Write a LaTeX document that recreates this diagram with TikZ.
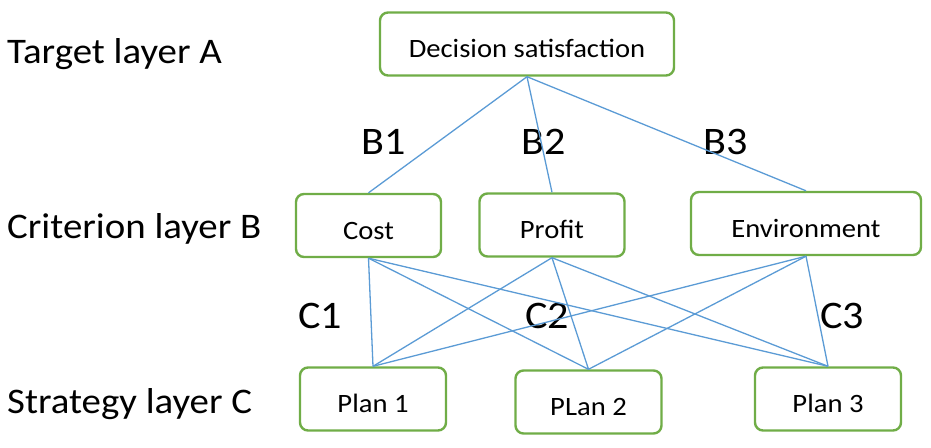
\documentclass[tikz,border=0pt]{standalone}
\usepackage{fontspec}
\usepackage{xcolor}
\usepackage{tikz}
\setmainfont{Carlito}[FakeStretch=1.08]
\usetikzlibrary{positioning,calc}
\definecolor{boxgreen}{HTML}{70AD47}
\definecolor{linkblue}{HTML}{5B9BD5}

\begin{document}
\begin{tikzpicture}[
    x=1pt, y=-1pt,
    box/.style={draw=boxgreen, line width=2.4pt, rounded corners=8pt, fill=white, align=center, font=\fontsize{26.5}{30}\selectfont, text height=27pt, text depth=0pt, minimum height=63pt, inner sep=0pt},
    link/.style={draw=linkblue, line width=1.3pt},
    layer/.style={anchor=base west, inner sep=0pt, font=\fontsize{36}{40}\selectfont},
    tag/.style={anchor=base, inner sep=0pt, font=\fontsize{39}{44}\selectfont}
]
\useasboundingbox (0,0) rectangle (931,447);

% Layer names
\node[layer] (layA) at (7,63) {Target layer A};
\node[layer] (layB) at (7,238) {Criterion layer B};
\node[layer] (layC) at (7,413) {Strategy layer C};

% Target
\node[box, minimum width=294pt] (goal) at (527,44) {Decision satisfaction};

% Criteria
\node[box, minimum width=145pt] (cost) at (368.5,225.5) {Cost};
\node[box, minimum width=145pt] (profit) at (552,225) {Profit};
\node[box, minimum width=230pt] (env) at (806,223.5) {Environment};

% Strategies
\node[box, minimum width=146pt] (plan1) at (373,399) {Plan 1};
\node[box, minimum width=146pt] (plan2) at (588.5,402) {PLan 2};
\node[box, minimum width=146pt] (plan3) at (828,399) {Plan 3};

% Tags
\node[tag] (b1) at (384,154) {B1};
\node[tag] (b2) at (544,154) {B2};
\node[tag] (b3) at (726,154) {B3};
\node[tag] (c1) at (320,328) {C1};
\node[tag] (c2) at (547,328) {C2};
\node[tag] (c3) at (842,328) {C3};

% Target to criteria
\draw[link] (goal.south) -- (cost.north);
\draw[link] (goal.south) -- (profit.north);
\draw[link] (goal.south) -- (env.north);

% Criteria to strategies
\foreach \c in {cost,profit,env}
  \foreach \p in {plan1,plan2,plan3}
    \draw[link] (\c.south) -- (\p.north);

\end{tikzpicture}
\end{document}
